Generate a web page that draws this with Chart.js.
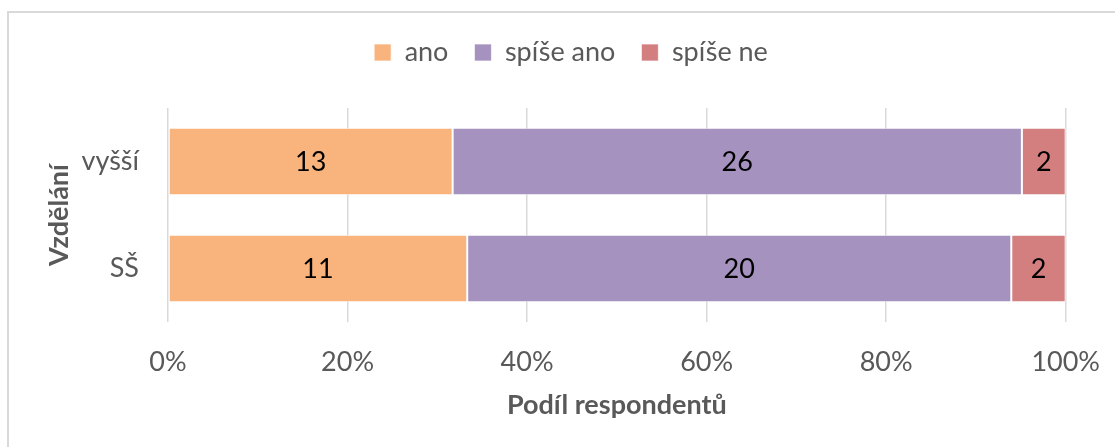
<!DOCTYPE html>
<html>
<head>
<meta charset="utf-8">
<script src="https://cdn.jsdelivr.net/npm/chart.js@4.4.1/dist/chart.umd.min.js"></script>
<style>
  html, body { margin: 0; padding: 0; background: #fff; overflow: hidden; }
  #wrap { position: relative; width: 1115px; height: 447px; overflow: hidden; }
  #frame { position: absolute; left: 7px; top: 11px; width: 1200px; height: 500px; border: 2px solid #d9d9d9; }
  #chart { position: absolute; left: 0; top: 0; }
</style>
</head>
<body>
<div id="wrap">
  <div id="frame"></div>
  <canvas id="chart" width="1124" height="447"></canvas>
</div>
<script>
// Categories (top to bottom) and counts of respondents per answer
const categories = ['vyšší', 'SŠ'];
const seriesNames = ['ano', 'spíše ano', 'spíše ne'];
const ano = [13, 11];
const spiseAno = [26, 20];
const spiseNe = [2, 2];
const tickValues = [0, 20, 40, 60, 80, 100];

const colors = ['#F9B47E', '#A592BF', '#D47F7F'];
const counts = [ano, spiseAno, spiseNe];

// 100 % stacked: share of each answer within a category
const totals = categories.map((c, j) => counts.reduce((s, arr) => s + arr[j], 0));
const shares = counts.map(arr => arr.map((v, j) => v / totals[j] * 100));

const fontName = 'Lato';
const fontSize = 27;
const grey = '#595959';
const legendCenterX = 571;

// Extra room under the legend and a small horizontal shift, like the Excel layout
const legendTweak = {
    id: 'legendTweak',
    beforeInit(chart) {
        const legend = chart.legend;
        const origFit = legend.fit;
        legend.fit = function() {
            origFit.call(this);
            this.height += 32;
        };
        const origDraw = legend.draw;
        legend.draw = function() {
            const boxes = this.legendHitBoxes || [];
            let shift = 0;
            if (boxes.length) {
                const last = boxes[boxes.length - 1];
                shift = legendCenterX - (boxes[0].left + last.left + last.width) / 2;
            }
            chart.ctx.save();
            chart.ctx.translate(shift, 0);
            origDraw.call(this);
            chart.ctx.restore();
        };
    }
};

// Count labels in the middle of each bar segment
const barLabels = {
    id: 'barLabels',
    afterDatasetsDraw(chart) {
        const ctx = chart.ctx;
        ctx.save();
        ctx.font = fontSize + 'px ' + fontName;
        ctx.fillStyle = '#000';
        ctx.textAlign = 'center';
        ctx.textBaseline = 'middle';
        chart.data.datasets.forEach((ds, i) => {
            chart.getDatasetMeta(i).data.forEach((bar, j) => {
                const p = bar.getCenterPoint();
                ctx.fillText(String(counts[i][j]), p.x, p.y + 1);
            });
        });
        ctx.restore();
    }
};

new Chart(document.getElementById('chart').getContext('2d'), {
    type: 'bar',
    data: {
        labels: categories,
        datasets: seriesNames.map((name, i) => ({
            label: name,
            data: shares[i],
            backgroundColor: colors[i],
            borderColor: 'rgba(255,255,255,0.7)',
            borderWidth: 1,
            borderSkipped: false,
            categoryPercentage: 1,
            barPercentage: 0.63
        }))
    },
    options: {
        indexAxis: 'y',
        responsive: false,
        animation: false,
        layout: { padding: { top: 13, left: 40, right: 42, bottom: 12 } },
        plugins: {
            legend: {
                position: 'top',
                labels: {
                    font: { family: fontName, size: fontSize },
                    color: grey,
                    boxWidth: 17,
                    boxHeight: 17,
                    padding: 26
                }
            },
            tooltip: { enabled: false }
        },
        scales: {
            x: {
                stacked: true,
                min: 0,
                max: 100,
                afterBuildTicks(scale) {
                    scale.ticks = tickValues.map(v => ({ value: v }));
                },
                afterFit(scale) { scale.height = 113; },
                grid: { color: '#d9d9d9', lineWidth: 1.5, drawTicks: false },
                border: { display: false },
                ticks: {
                    font: { family: fontName, size: fontSize },
                    color: grey,
                    padding: 24,
                    callback: v => v + '%'
                },
                title: {
                    display: true,
                    text: 'Podíl respondentů',
                    font: { family: fontName, size: fontSize, weight: 'bold' },
                    color: grey,
                    padding: { top: 0, bottom: 14 }
                }
            },
            y: {
                stacked: true,
                afterFit(scale) { scale.width = 128; },
                grid: { display: false },
                border: { display: false },
                ticks: {
                    font: { family: fontName, size: fontSize },
                    color: grey,
                    padding: 21
                },
                title: {
                    display: true,
                    text: 'Vzdělání',
                    font: { family: fontName, size: fontSize, weight: 'bold' },
                    color: grey,
                    padding: { top: 3, bottom: 0 }
                }
            }
        }
    },
    plugins: [legendTweak, barLabels]
});
</script>
</body>
</html>
